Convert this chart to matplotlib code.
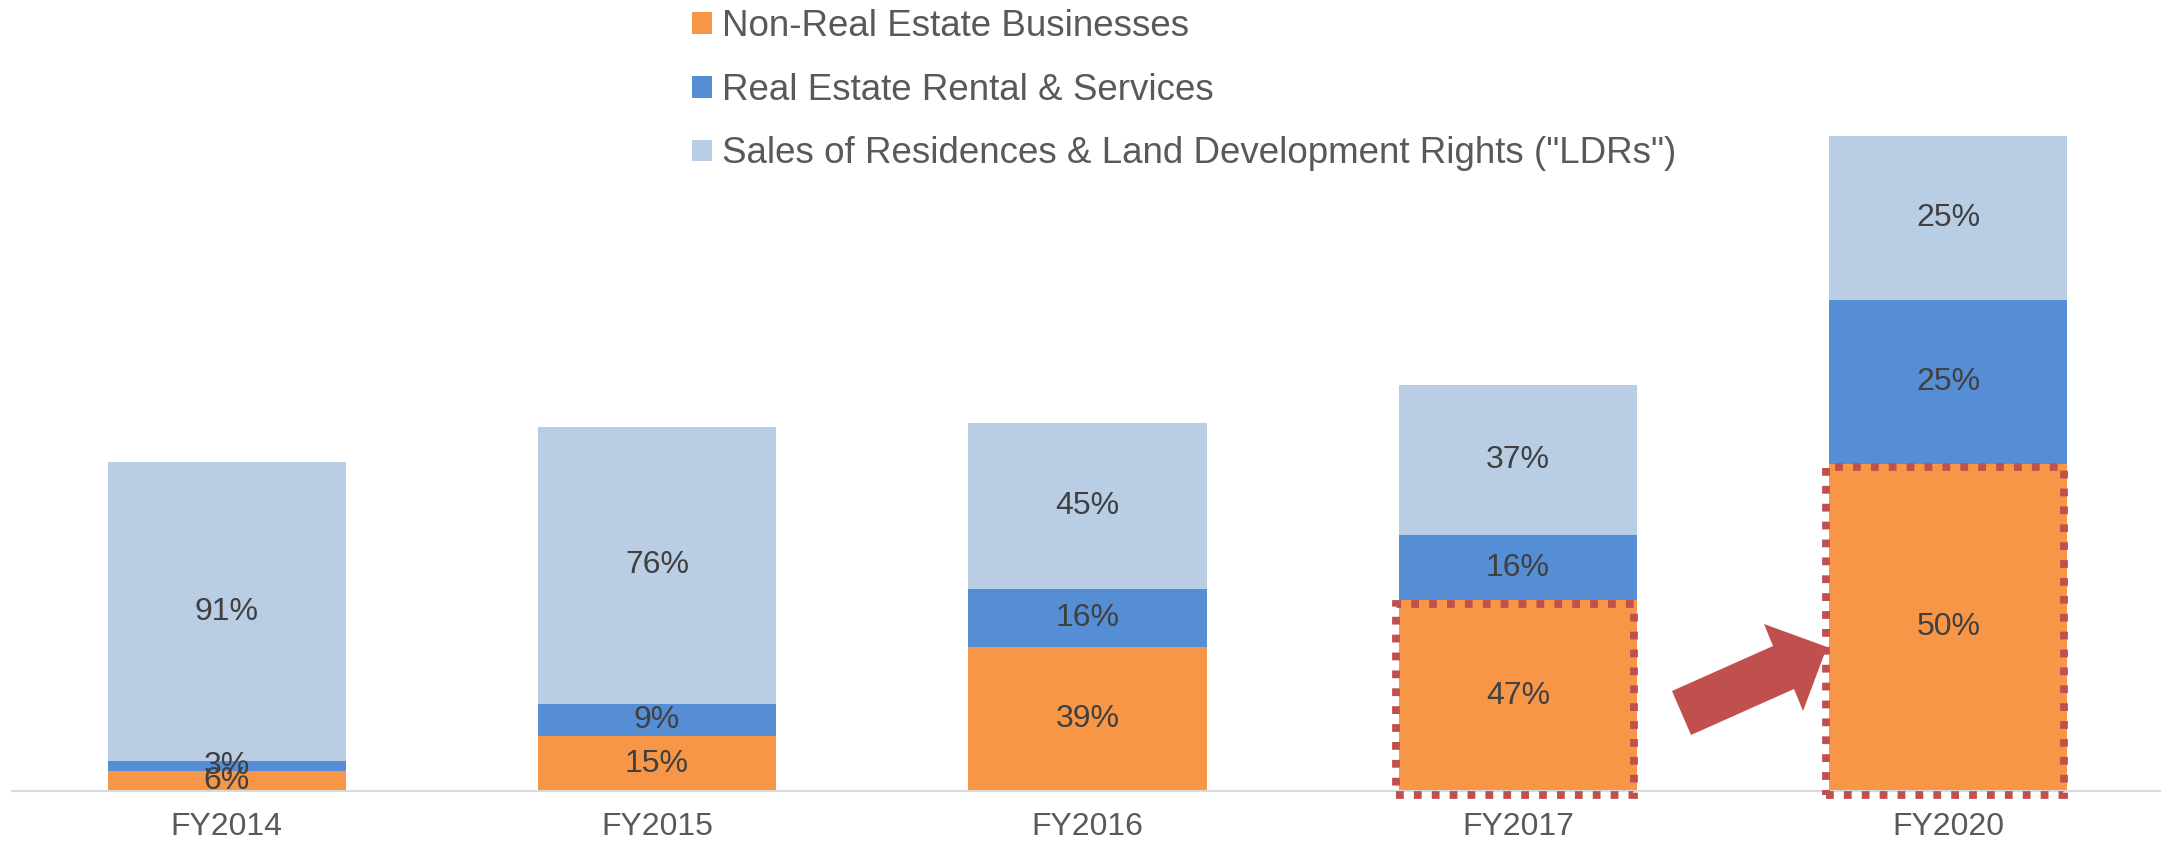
import matplotlib
matplotlib.use("Agg")
import matplotlib.pyplot as plt
from matplotlib.patches import Rectangle, Polygon

plt.rcParams['font.family'] = ['Liberation Sans', 'DejaVu Sans']

# ---- data ----
years = ["FY2014", "FY2015", "FY2016", "FY2017", "FY2020"]
totals = [329, 364, 368, 406, 655]          # relative revenue size (bar height)
pct_non_re = [6, 15, 39, 47, 50]
pct_rental = [3, 9, 16, 16, 25]
pct_sales = [91, 76, 45, 37, 25]
series_names = ["Non-Real Estate Businesses",
                "Real Estate Rental & Services",
                "Sales of Residences & Land Development Rights (\"LDRs\")"]
colors = ["#F79646", "#558ED5", "#B9CDE5"]
highlight = ["FY2017", "FY2020"]

W, H = 2161, 842
fig = plt.figure(figsize=(W / 100, H / 100), dpi=100)
ax = fig.add_axes([11.5 / W, 51 / H, 2152 / W, 791 / H])

x = list(range(len(years)))
bw = 0.553
pcts = [pct_non_re, pct_rental, pct_sales]
bottoms = [0.0] * len(years)
seg_tops = []
for name, pc, col in zip(series_names, pcts, colors):
    vals = [t * p / 100 for t, p in zip(totals, pc)]
    ax.bar(x, vals, bw, bottom=bottoms, color=col, label=name, zorder=2)
    for i, (v, b, p) in enumerate(zip(vals, bottoms, pc)):
        ax.text(i, b + v / 2, f"{p}%", ha="center", va="center",
                fontsize=23, color="#404040", zorder=5)
    bottoms = [b + v for b, v in zip(bottoms, vals)]
    seg_tops.append(list(bottoms))

ax.set_xlim(-0.5, len(years) - 0.5)
ax.set_ylim(0, 791)
ax.set_xticks(x)
ax.set_xticklabels(years, fontsize=23, color="#595959")
ax.tick_params(axis="x", length=0, pad=15)
ax.set_yticks([])
for s in ["left", "right", "top"]:
    ax.spines[s].set_visible(False)
ax.spines["bottom"].set_color("#D9D9D9")
ax.spines["bottom"].set_linewidth(1.5)
ax.spines["bottom"].set_zorder(3)

# dotted highlight boxes around the non-real-estate segments
px_x = 1 / 430.45
for yr in highlight:
    i = years.index(yr)
    top = seg_tops[0][i]
    rect = Rectangle((i - bw / 2 - 3 * px_x, -3.5), bw, top,
                     fill=False, edgecolor="#C0504D", linewidth=5.6,
                     linestyle=(0, (1, 1.3)), zorder=6, clip_on=False)
    ax.add_patch(rect)

# block arrow
pts = [(1672, 691), (1773, 646), (1764, 624), (1827, 647),
       (1803, 711), (1794, 689), (1691, 735)]
arrow = Polygon([(px / W, 1 - py / H) for px, py in pts], closed=True,
                facecolor="#C0504D", edgecolor="none",
                transform=fig.transFigure, zorder=7)
fig.patches.append(arrow)

leg = fig.legend(loc="upper left", bbox_to_anchor=(692 / W, 1 - 9 / H),
                 frameon=False, fontsize=26.5, labelcolor="#595959",
                 handlelength=0.53, handleheight=0.53, handletextpad=0.28,
                 labelspacing=0.78, borderpad=0, borderaxespad=0)

fig.savefig("out.png", dpi=100)
